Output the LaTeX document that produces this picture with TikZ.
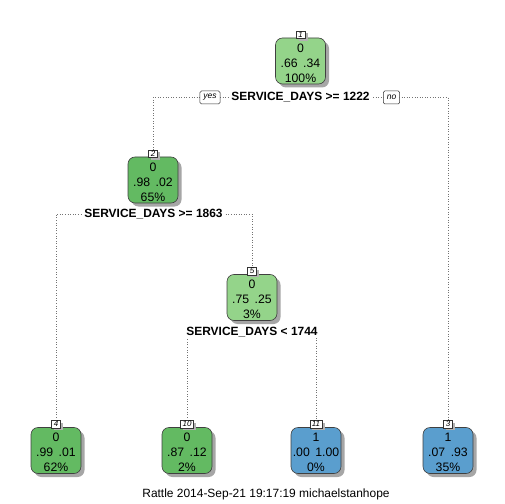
\documentclass[tikz,border=0pt]{standalone}
\usepackage{fontspec}
\setmainfont{Liberation Sans}
\usetikzlibrary{shadows,backgrounds}
\definecolor{lgreen}{HTML}{94D48A}
\definecolor{dgreen}{HTML}{63BA62}
\definecolor{nblue}{HTML}{5A9ECE}
\tikzset{
  tbox/.style={draw=black!75, line width=0.6bp, rounded corners=7bp,
    minimum width=50bp, minimum height=46bp, inner sep=0pt,
    drop shadow={shadow xshift=3.5bp, shadow yshift=-3.5bp, fill=black!35, opacity=1}},
  ttext/.style={align=center, font=\fontsize{12.3}{15}\selectfont, inner sep=0pt},
  numlab/.style={draw=black!80, fill=white, line width=0.5bp,
    font=\fontsize{8}{8}\selectfont\itshape, inner xsep=2bp, inner ysep=0pt,
    minimum height=7.5bp, minimum width=9bp, anchor=south,
    drop shadow={shadow xshift=2.5bp, shadow yshift=-2.5bp, fill=black!30, opacity=1}},
  splittext/.style={fill=white, font=\fontsize{12}{12}\selectfont\bfseries, inner xsep=2bp, inner ysep=1bp},
  yesno/.style={draw=black!80, fill=white, line width=0.5bp, rounded corners=1.5bp,
    font=\fontsize{8.5}{9}\selectfont\itshape, inner xsep=3.5bp, inner ysep=1pt, minimum height=13bp},
  conn/.style={draw=black!55, dotted, line width=0.6bp},
}
\begin{document}
\begin{tikzpicture}[x=1bp, y=-1bp]
\useasboundingbox (0,0) rectangle (504,504);
% boxes
\node[tbox, fill=lgreen] (n1) at (300.5,61) {};
\node[ttext] (t1) at (300.5,63) {0\\.66\hspace{0.45em}.34\\100\%};
\node[numlab] (l1) at ([yshift=-1bp]n1.north) {1};

\node[tbox, fill=dgreen] (n2) at (153,180) {};
\node[ttext] (t2) at (153,182) {0\\.98\hspace{0.45em}.02\\65\%};
\node[numlab] (l2) at ([yshift=-1bp]n2.north) {2};

\node[tbox, fill=lgreen] (n5) at (252,297.5) {};
\node[ttext] (t5) at (252,299.5) {0\\.75\hspace{0.45em}.25\\3\%};
\node[numlab] (l5) at ([yshift=-1bp]n5.north) {5};

\node[tbox, fill=dgreen] (n4) at (56,450.5) {};
\node[ttext] (t4) at (56,452.5) {0\\.99\hspace{0.45em}.01\\62\%};
\node[numlab] (l4) at ([yshift=-1bp]n4.north) {4};

\node[tbox, fill=dgreen] (n10) at (187,450.5) {};
\node[ttext] (t10) at (187,452.5) {0\\.87\hspace{0.45em}.12\\2\%};
\node[numlab] (l10) at ([yshift=-1bp]n10.north) {10};

\node[tbox, fill=nblue] (n11) at (316,450.5) {};
\node[ttext] (t11) at (316,452.5) {1\\.00\hspace{0.45em}1.00\\0\%};
\node[numlab] (l11) at ([yshift=-1bp]n11.north) {11};

\node[tbox, fill=nblue] (n3) at (448,450.5) {};
\node[ttext] (t3) at (448,452.5) {1\\.07\hspace{0.45em}.93\\35\%};
\node[numlab] (l3) at ([yshift=-1bp]n3.north) {3};

% split labels
\node[splittext] (s1) at (300.5,97.5) {SERVICE\_DAYS >= 1222};
\node[yesno] (yes) at (210,97.5) {yes};
\node[yesno] (no) at (391.5,97.5) {no};
\node[splittext] (s2) at (153.5,214) {SERVICE\_DAYS >= 1863};
\node[splittext] (s5) at (252,332) {SERVICE\_DAYS < 1744};

% connectors
\begin{scope}[on background layer]
\draw[conn] (l2.north) -- (l2.north |- s1) -- (l3.north |- s1) -- (l3.north);
\draw[conn] (l4.north) -- (l4.north |- s2) -- (l5.north |- s2) -- (l5.north);
\draw[conn] (l10.north) -- (l10.north |- s5) -- (l11.north |- s5) -- (l11.north);
\end{scope}

\node[font=\fontsize{12}{14}\selectfont] (cap) at (266,494) {Rattle 2014-Sep-21 19:17:19 michaelstanhope};
\end{tikzpicture}
\end{document}
